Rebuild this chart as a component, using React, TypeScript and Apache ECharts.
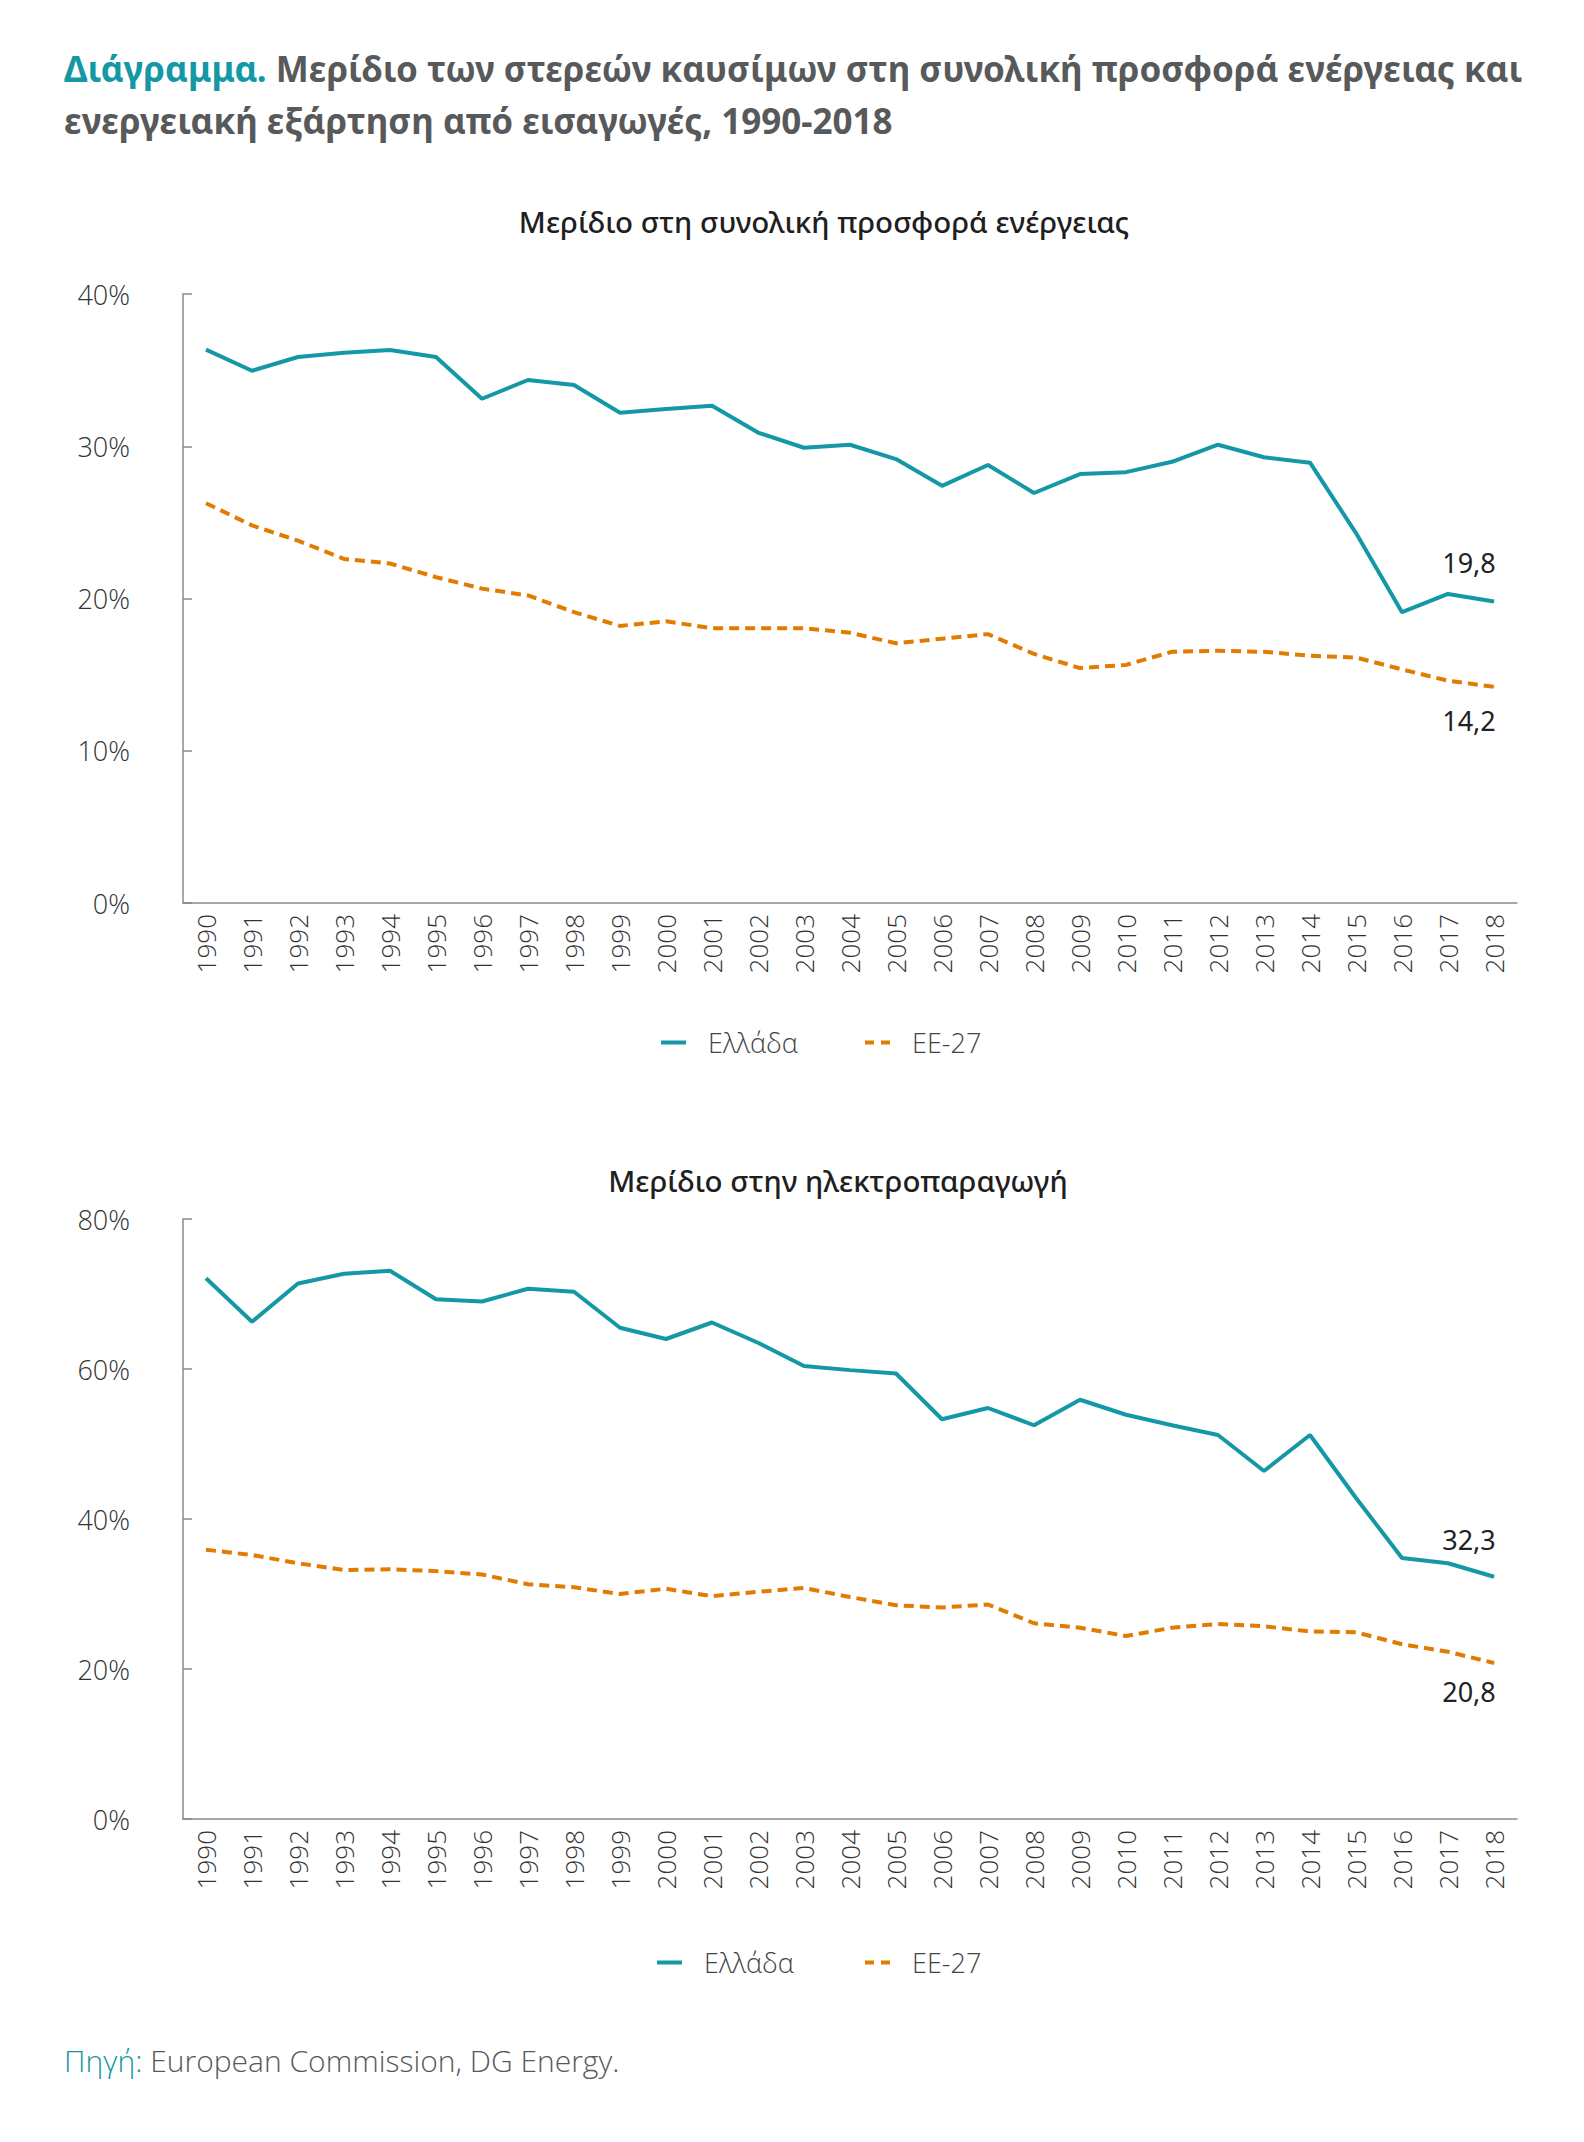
import React, { useEffect, useRef } from "react";
import * as echarts from "echarts";

const years = [
  "1990","1991","1992","1993","1994","1995","1996","1997","1998","1999",
  "2000","2001","2002","2003","2004","2005","2006","2007","2008","2009",
  "2010","2011","2012","2013","2014","2015","2016","2017","2018",
];

// Share in total energy supply (%)
const supplyGreece = [
  36.35, 34.96, 35.86, 36.14, 36.32, 35.86, 33.12, 34.35, 34.02, 32.2,
  32.45, 32.66, 30.9, 29.9, 30.1, 29.16, 27.4, 28.77, 26.93, 28.17,
  28.3, 28.98, 30.1, 29.28, 28.92, 24.3, 19.1, 20.3, 19.8,
];
const supplyEU = [
  26.26, 24.8, 23.8, 22.6, 22.3, 21.4, 20.65, 20.2, 19.1, 18.2,
  18.5, 18.05, 18.05, 18.05, 17.75, 17.06, 17.36, 17.66, 16.36, 15.43,
  15.64, 16.5, 16.57, 16.5, 16.24, 16.12, 15.34, 14.6, 14.2,
];

// Share in electricity generation (%)
const powerGreece = [
  72.1, 66.3, 71.4, 72.7, 73.1, 69.3, 69.0, 70.7, 70.3, 65.5,
  64.0, 66.2, 63.5, 60.4, 59.85, 59.4, 53.3, 54.8, 52.5, 55.9,
  53.9, 52.5, 51.2, 46.4, 51.2, 42.8, 34.8, 34.1, 32.3,
];
const powerEU = [
  35.9, 35.2, 34.1, 33.2, 33.3, 33.05, 32.6, 31.3, 30.9, 30.0,
  30.7, 29.7, 30.3, 30.8, 29.6, 28.5, 28.2, 28.6, 26.1, 25.5,
  24.4, 25.5, 26.0, 25.7, 25.0, 24.9, 23.3, 22.3, 20.8,
];

const seriesNames = ["Ελλάδα", "ΕΕ-27"];
const supplyTicks = { min: 0, max: 40, interval: 10 };
const powerTicks = { min: 0, max: 80, interval: 20 };

const titleLead = "Διάγραμμα.";
const titleLine1 = "Μερίδιο των στερεών καυσίμων στη συνολική προσφορά ενέργειας και";
const titleLine2 = "ενεργειακή εξάρτηση από εισαγωγές, 1990-2018";
const subtitleTop = "Μερίδιο στη συνολική προσφορά ενέργειας";
const subtitleBottom = "Μερίδιο στην ηλεκτροπαραγωγή";
const sourceLead = "Πηγή:";
const sourceText = " European Commission, DG Energy.";

const TEAL = "#1498a6";
const ORANGE = "#e07c00";
const GRAY_TEXT = "#58595b";
const AXIS = "#8a8a8a";
const FONT = "'Noto Sans', 'Open Sans', sans-serif";
const LIGHT = "'Open Sans', 'Noto Sans', sans-serif";

const SOLID_ICON = "path://M0,0h25v4h-25z";
const DASH_ICON = "path://M0,0h9v4h-9zM16,0h9v4h-9z";

function withEndLabel(values: number[], position: string, distance: number, color: string) {
  const last = values.length - 1;
  return values.map((v, i) =>
    i === last
      ? {
          value: v,
          symbol: "circle",
          symbolSize: 1,
          itemStyle: { color },
          label: {
            show: true,
            position,
            distance,
            offset: [-25, 0],
            formatter: (p: any) => String(p.value).replace(".", ","),
            fontFamily: FONT,
            fontSize: 27,
            color: "#222",
          },
        }
      : v
  );
}

export default function App() {
  const ref = useRef<HTMLDivElement>(null);

  useEffect(() => {
    document.body.style.margin = "0";
    if (!ref.current) return;
    const chart = echarts.init(ref.current, undefined, { renderer: "svg" });

    const xAxisCommon = (gridIndex: number) => ({
      type: "category",
      gridIndex,
      data: years,
      boundaryGap: true,
      axisLine: { show: true, lineStyle: { color: AXIS, width: 1.5 } },
      axisTick: { show: false },
      axisLabel: {
        rotate: 90,
        margin: 11,
        fontSize: 26,
        fontFamily: LIGHT,
        fontWeight: 300,
        color: "#333",
        interval: 0,
      },
      splitLine: { show: false },
    });

    const yAxisCommon = (gridIndex: number, t: any) => ({
      type: "value",
      gridIndex,
      min: t.min,
      max: t.max,
      interval: t.interval,
      axisLine: { show: true, lineStyle: { color: AXIS, width: 1.5 } },
      axisTick: { show: true, inside: true, length: 9, lineStyle: { color: AXIS, width: 1.5 } },
      axisLabel: {
        formatter: "{value}%",
        margin: 53,
        fontSize: 27,
        fontFamily: LIGHT,
        fontWeight: 300,
        color: "#333",
      },
      splitLine: { show: false },
    });

    const lineSeries = (
      name: string,
      idx: number,
      data: any[],
      color: string,
      dashed: boolean
    ) => ({
      name,
      type: "line",
      xAxisIndex: idx,
      yAxisIndex: idx,
      data,
      symbol: "none",
      lineStyle: { color, width: 4, type: dashed ? [10, 6] : "solid" },
      itemStyle: { color },
      emphasis: { disabled: true },
    });

    const legendItem = (name: string, left: number, top: number, icon: string) => ({
      data: [{ name, icon }],
      left,
      top,
      itemWidth: 25,
      itemHeight: 4,
      selectedMode: false,
      textStyle: {
        fontSize: 27,
        fontFamily: LIGHT,
        fontWeight: 300,
        color: "#444",
        padding: [0, 0, 0, 17],
      },
    });

    chart.setOption({
      animation: false,
      backgroundColor: "#ffffff",
      grid: [
        { left: 183, top: 294, width: 1334, height: 609 },
        { left: 183, top: 1219, width: 1334, height: 600 },
      ],
      xAxis: [xAxisCommon(0), xAxisCommon(1)],
      yAxis: [yAxisCommon(0, supplyTicks), yAxisCommon(1, powerTicks)],
      legend: [
        legendItem(seriesNames[0], 656, 1024, SOLID_ICON),
        legendItem(seriesNames[1], 860, 1024, DASH_ICON),
        legendItem(seriesNames[0], 652, 1944, SOLID_ICON),
        legendItem(seriesNames[1], 860, 1944, DASH_ICON),
      ],
      series: [
        lineSeries(seriesNames[0], 0, withEndLabel(supplyGreece, "top", 25, TEAL), TEAL, false),
        lineSeries(seriesNames[1], 0, withEndLabel(supplyEU, "bottom", 20, ORANGE), ORANGE, true),
        lineSeries(seriesNames[0], 1, withEndLabel(powerGreece, "top", 23, TEAL), TEAL, false),
        lineSeries(seriesNames[1], 1, withEndLabel(powerEU, "bottom", 14, ORANGE), ORANGE, true),
      ],
      graphic: [
        {
          type: "text",
          x: 64,
          y: 42,
          style: {
            text:
              "{a|" + titleLead + "}{b| " + titleLine1 + "}\n{b|" + titleLine2 + "}",
            fontFamily: FONT,
            fontSize: 35,
            fontWeight: "bold",
            verticalAlign: "top",
            textVerticalAlign: "top",
            rich: {
              a: { fill: TEAL, color: TEAL, fontSize: 35, fontWeight: "bold", fontFamily: FONT, lineHeight: 52 },
              b: { fill: GRAY_TEXT, color: GRAY_TEXT, fontSize: 35, fontWeight: "bold", fontFamily: FONT, lineHeight: 52 },
            },
          },
        },
        {
          type: "text",
          x: 824,
          y: 221,
          style: {
            text: subtitleTop,
            fontFamily: FONT,
            fontSize: 29.5,
            fontWeight: 500,
            fill: "#1f1f1f",
            align: "center",
            textAlign: "center",
            verticalAlign: "middle",
            textVerticalAlign: "middle",
          },
        },
        {
          type: "text",
          x: 838,
          y: 1180,
          style: {
            text: subtitleBottom,
            fontFamily: FONT,
            fontSize: 29.5,
            fontWeight: 500,
            fill: "#1f1f1f",
            align: "center",
            textAlign: "center",
            verticalAlign: "middle",
            textVerticalAlign: "middle",
          },
        },
        {
          type: "text",
          x: 64,
          y: 2060,
          style: {
            text: "{a|" + sourceLead + "}{b|" + sourceText + "}",
            fontFamily: LIGHT,
            fontSize: 30,
            verticalAlign: "middle",
            textVerticalAlign: "middle",
            rich: {
              a: { fill: TEAL, color: TEAL, fontSize: 30, fontFamily: LIGHT, fontWeight: 300 },
              b: { fill: GRAY_TEXT, color: GRAY_TEXT, fontSize: 30, fontFamily: LIGHT, fontWeight: 300 },
            },
          },
        },
      ],
    });

    return () => chart.dispose();
  }, []);

  return <div ref={ref} style={{ width: 1584, height: 2142 }} />;
}
